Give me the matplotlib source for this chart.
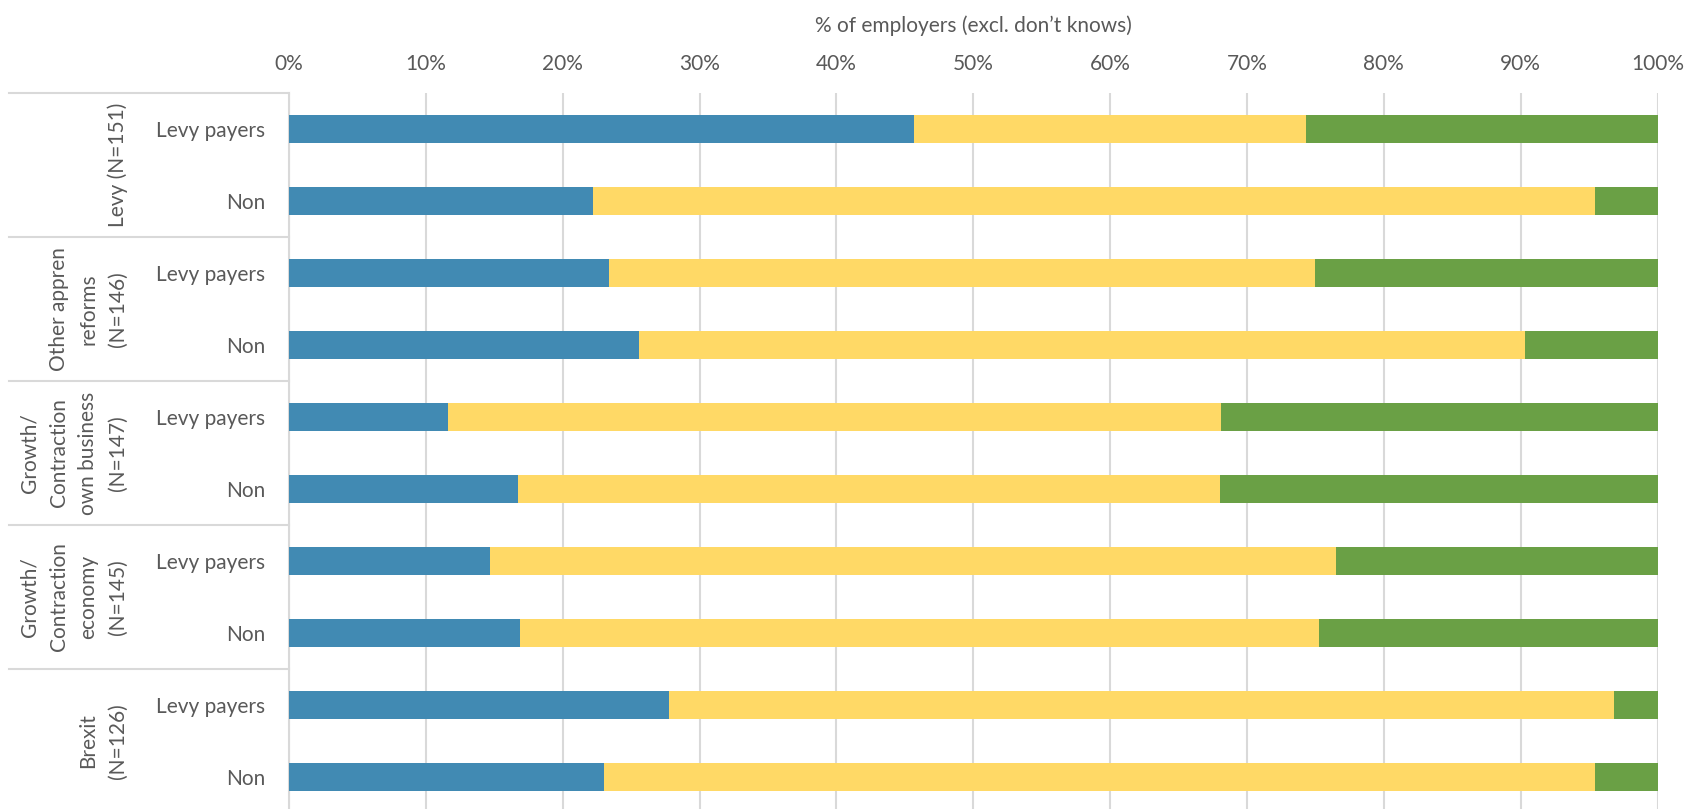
import matplotlib
matplotlib.use("Agg")
import matplotlib.pyplot as plt
from matplotlib.lines import Line2D
import numpy as np

plt.rcParams['font.family'] = ['Lato', 'DejaVu Sans']

# Survey groups (outer category) and respondent type (inner category)
groups = ["Levy (N=151)",
          "Other appren\nreforms\n(N=146)",
          "Growth/\nContraction\nown business\n(N=147)",
          "Growth/\nContraction\neconomy\n(N=145)",
          "Brexit\n(N=126)"]
row_labels = ["Levy payers", "Non"] * 5

# Share of employers per response (%), one value per row, top to bottom
blue_vals = [45.7, 22.2, 23.4, 25.6, 11.6, 16.7, 14.7, 16.9, 27.8, 23.0]
yellow_vals = [28.6, 73.2, 51.6, 64.7, 56.5, 51.3, 61.8, 58.4, 69.0, 72.4]
green_vals = [25.7, 4.6, 25.0, 9.7, 31.9, 32.0, 23.5, 24.7, 3.2, 4.6]

xticks = [0, 10, 20, 30, 40, 50, 60, 70, 80, 90, 100]
xtick_labels = [f"{t}%" for t in xticks]
axis_title = "% of employers (excl. don\u2019t knows)"

colors = ["#418AB3", "#FFD966", "#6AA045"]
text_color = "#595959"
grid_color = "#D9D9D9"
fs = 15

W, H = 1688, 809
fig = plt.figure(figsize=(W / 100, H / 100), dpi=100)
left_px, right_px, top_px, bottom_px = 289, 1657.5, 93, 813
ax = fig.add_axes([left_px / W, 1 - bottom_px / H,
                   (right_px - left_px) / W, (bottom_px - top_px) / H])

y = np.arange(len(row_labels))
left = np.zeros(len(y))
for vals, c in zip([blue_vals, yellow_vals, green_vals], colors):
    ax.barh(y, vals, left=left, height=0.4, color=c, zorder=3)
    left = left + np.array(vals)

ax.set_xlim(0, 100)
ax.set_ylim(len(y) - 0.5, -0.5)

ax.xaxis.tick_top()
ax.xaxis.set_label_position("top")
ax.set_xticks(xticks)
ax.set_xticklabels(xtick_labels, fontsize=fs, color=text_color)
ax.tick_params(axis="x", length=0, pad=14)
ax.set_xlabel(axis_title, fontsize=fs, color=text_color, labelpad=15.5)

ax.set_yticks(y)
ax.set_yticklabels(row_labels, fontsize=fs, color=text_color)
ax.tick_params(axis="y", length=0, pad=17)

ax.grid(axis="x", color=grid_color, linewidth=1.5, zorder=0)
for s in ["top", "right", "bottom"]:
    ax.spines[s].set_visible(False)
ax.spines["left"].set_color(grid_color)
ax.spines["left"].set_linewidth(1.5)

# Outer category labels and separators
sep_x0 = 9
for i, g in enumerate(groups):
    y_top = top_px + i * 144
    fig.add_artist(Line2D([sep_x0 / W, left_px / W], [1 - y_top / H, 1 - y_top / H],
                          color=grid_color, linewidth=1.5))
    yc = y_top + 72
    fig.text(128 / W, 1 - yc / H, g, rotation=90, ha="right", va="center",
             multialignment="center", fontsize=fs, color=text_color,
             linespacing=1.6)

fig.savefig("out.png", dpi=100)
